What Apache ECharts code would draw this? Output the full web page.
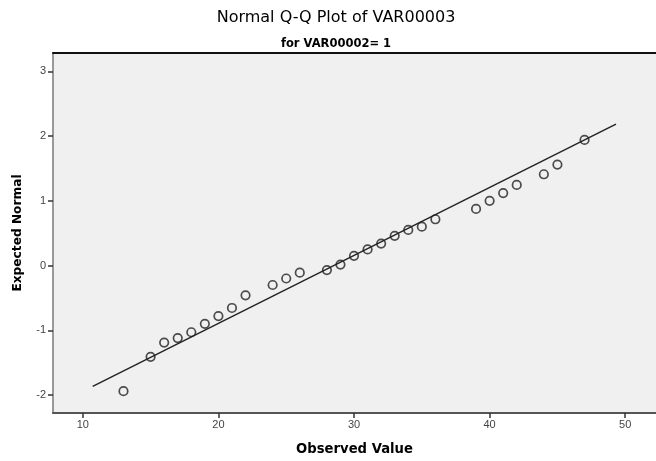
<!DOCTYPE html>
<html>
<head>
<meta charset="utf-8">
<script src="https://cdn.jsdelivr.net/npm/echarts@6/dist/echarts.min.js"></script>
<style>
html,body{margin:0;padding:0;background:#fff;}
#c{width:656px;height:461px;}
</style>
</head>
<body>
<div id="c"></div>
<script>
// Observed values and their expected normal scores
var observed = [13,15,16,17,18,19,20,21,22,24,25,26,28,29,30,31,32,33,34,35,36,39,40,41,42,44,45,47];
var expected = [-1.94,-1.41,-1.19,-1.12,-1.03,-0.90,-0.78,-0.655,-0.46,-0.30,-0.20,-0.11,-0.07,0.015,0.15,0.25,0.34,0.46,0.55,0.60,0.715,0.875,1.0,1.12,1.245,1.41,1.56,1.94];
// Reference line end points
var lineX = [10.73, 49.32];
var lineY = [-1.865, 2.184];
// Tick labels
var xTicks = [10,20,30,40,50];
var yTicks = [-2,-1,0,1,2,3];

var font = '"Liberation Sans", Arial, sans-serif';
var wideFont = '"DejaVu Sans", "Liberation Sans", sans-serif';
var chart = echarts.init(document.getElementById('c'), null, {renderer:'canvas'});
chart.setOption({
  animation:false,
  backgroundColor:'#ffffff',
  title:[
    {text:'Normal Q-Q Plot of VAR00003', left:331, textAlign:'center', top:5,
     textStyle:{fontFamily:wideFont, fontSize:16, fontWeight:'normal', color:'#000'}},
    {text:'for VAR00002= 1', left:331, textAlign:'center', top:33,
     textStyle:{fontFamily:wideFont, fontSize:11.5, fontWeight:'bold', color:'#000'}}
  ],
  grid:{left:53, top:53, width:607, height:360, show:true, backgroundColor:'#f0f0f0', borderWidth:0},
  xAxis:[{
    type:'value', min:7.802, max:52.27, position:'bottom',
    name:'Observed Value', nameLocation:'middle', nameGap:30,
    nameTextStyle:{fontFamily:wideFont, fontSize:13.2, fontWeight:'bold', color:'#000'},
    axisLine:{show:true, onZero:false, lineStyle:{color:'#555', width:2}},
    axisTick:{show:true, customValues:xTicks, length:5, lineStyle:{color:'#333', width:1.5}},
    axisLabel:{customValues:xTicks, fontFamily:font, fontSize:11, color:'#444', margin:6},
    splitLine:{show:false}
  },{
    type:'value', min:7.802, max:52.27, position:'top',
    axisLine:{show:true, onZero:false, lineStyle:{color:'#111', width:2}},
    axisTick:{show:false}, axisLabel:{show:false}, splitLine:{show:false}
  }],
  yAxis:{
    type:'value', min:-2.277, max:3.283,
    name:'Expected Normal', nameLocation:'middle', nameGap:29,
    nameTextStyle:{fontFamily:wideFont, fontSize:12.2, fontWeight:'bold', color:'#000'},
    axisLine:{show:true, onZero:false, lineStyle:{color:'#999', width:2}},
    axisTick:{show:true, customValues:yTicks, length:5, lineStyle:{color:'#333', width:1.5}},
    axisLabel:{customValues:yTicks, fontFamily:font, fontSize:11, color:'#444', margin:7},
    splitLine:{show:false}
  },
  series:[{
    type:'line', data:lineX.map(function(x,i){return [x,lineY[i]];}),
    symbol:'none', lineStyle:{color:'#222', width:1.4}, silent:true, z:2
  },{
    type:'scatter', data:observed.map(function(x,i){return [x,expected[i]];}),
    symbol:'circle', symbolSize:8.5,
    itemStyle:{color:'rgba(0,0,0,0)', borderColor:'#222', borderWidth:1.7}, z:3
  }]
});
</script>
</body>
</html>
